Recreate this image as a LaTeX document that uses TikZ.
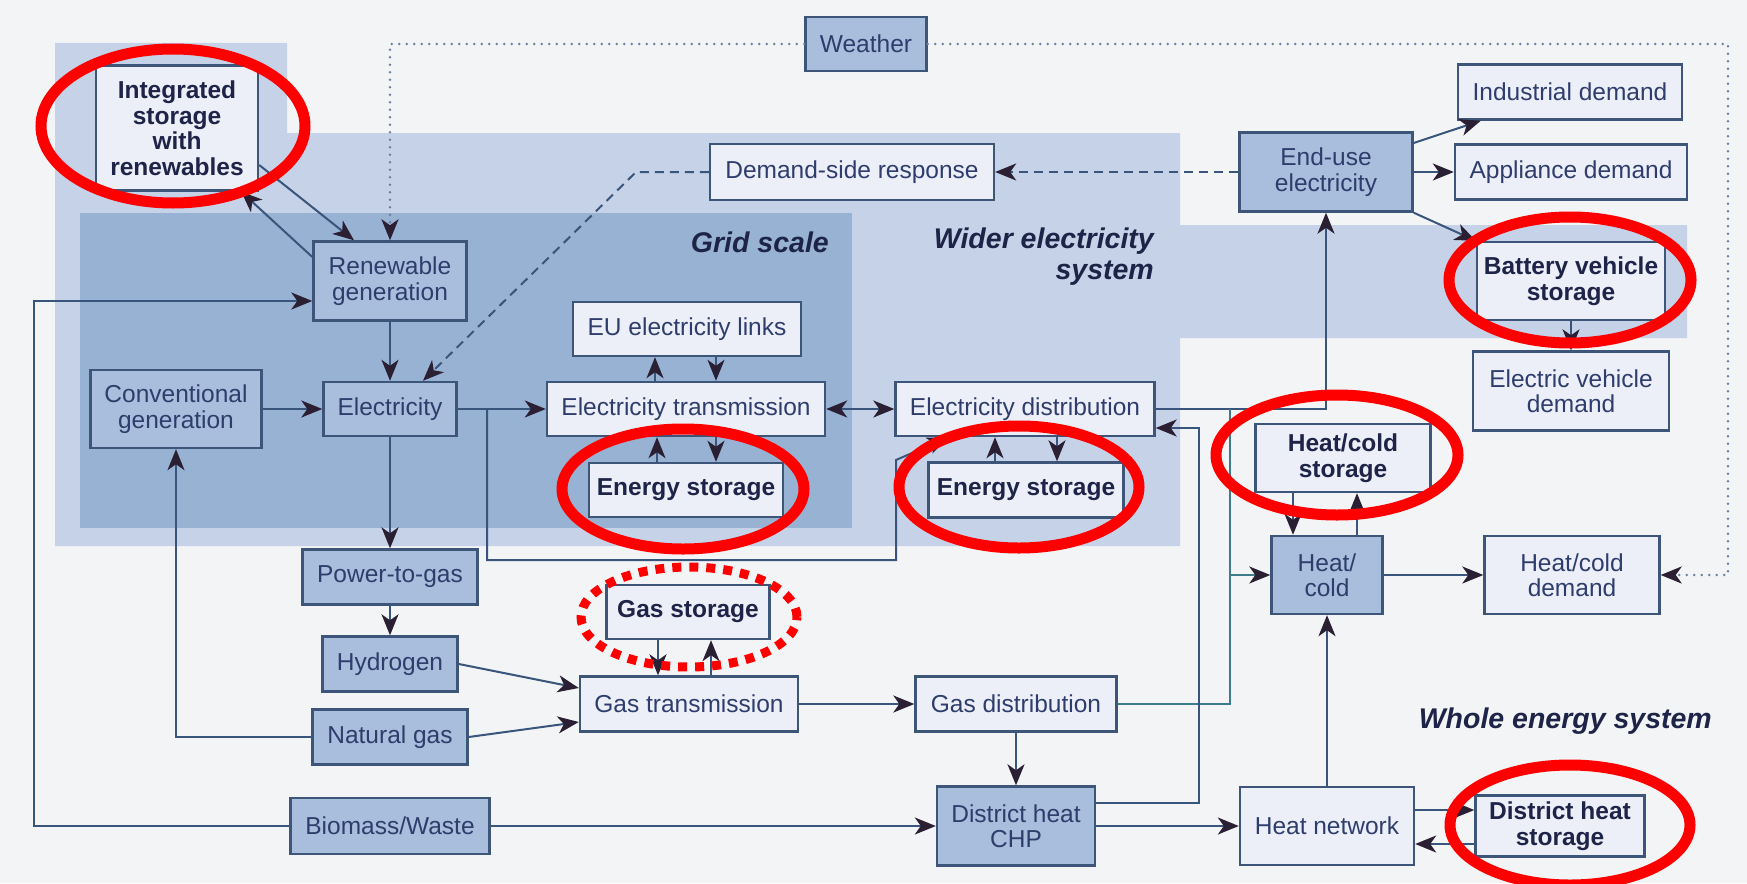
\documentclass[tikz,border=0pt]{standalone}
\usepackage{fontspec}
\setmainfont{Liberation Sans}
\usetikzlibrary{arrows.meta,calc}
\definecolor{bgcol}{HTML}{F3F4F6}
\definecolor{widercol}{HTML}{C5D2E8}
\definecolor{gridcol}{HTML}{98B2D4}
\definecolor{darkcol}{HTML}{A8BEDC}
\definecolor{lightcol}{HTML}{ECEEF8}
\definecolor{edgecol}{HTML}{3D5579}
\definecolor{linecol}{HTML}{3A557C}
\definecolor{tealcol}{HTML}{3E7C8C}
\definecolor{tipcol}{HTML}{2A1F33}
\definecolor{txtcol}{HTML}{2E3D6C}
\definecolor{boldcol}{HTML}{1E2447}
\definecolor{ringcol}{HTML}{FF0000}
\newcommand\boxfont{\fontsize{24.5}{25.5}\selectfont}
\newcommand\areafont{\fontsize{28.5}{31}\selectfont\bfseries\itshape}

\begin{document}
\begin{tikzpicture}[x=1pt,y=-1pt,>={Stealth[length=21pt,width=17pt,inset=6pt,color=tipcol]}]
  \tikzstyle{every node}=[font=\boxfont,text=txtcol,align=center,inner sep=1pt]
  \tikzstyle{dbox}=[draw=edgecol,line width=2.4pt,fill=darkcol]
  \tikzstyle{lbox}=[draw=edgecol,line width=2.4pt,fill=lightcol]
  \tikzstyle{sbox}=[lbox,font=\boxfont\bfseries,text=boldcol]
  \tikzstyle{link}=[draw=linecol,line width=2pt]
  \tikzstyle{dashlink}=[link,dash pattern=on 9pt off 6pt]
  \tikzstyle{dotlink}=[draw=linecol!75,line width=2.8pt,line cap=round,dash pattern=on 0pt off 7.5pt]
  \tikzstyle{ring}=[draw=ringcol,line width=11pt]
  \tikzstyle{area}=[font=\areafont,text=boldcol,align=right]

  \useasboundingbox (0,0) rectangle (1747,883);
  \fill[bgcol] (0,0) rectangle (1747,883);
  \fill[widercol] (55,43) -- (287,43) -- (287,133) -- (1180,133) -- (1180,225) -- (1687,225)
    -- (1687,338) -- (1180,338) -- (1180,546) -- (55,546) -- cycle;
  \fill[gridcol] (80,213) rectangle (852,528);

  \node[area,anchor=east] (gridlbl) at (830,242) {Grid scale};
  \node[area,anchor=east] (widerlbl) at (1155,257) {Wider electricity\\system};
  \node[area,anchor=east] (wholelbl) at (1713,721) {Whole energy system};

  \node[dbox,minimum width=121pt,minimum height=54pt] (weather) at (866,44) {Weather};
  \node[sbox,minimum width=162pt,minimum height=125pt] (intstore) at (177,128) {Integrated\\storage\\with\\renewables};
  \node[dbox,minimum width=153pt,minimum height=79pt] (renew) at (390,281) {Renewable\\generation};
  \node[dbox,minimum width=133pt,minimum height=54pt] (elec) at (390,409) {Electricity};
  \node[dbox,minimum width=171pt,minimum height=78pt] (conv) at (176,409) {Conventional\\generation};
  \node[lbox,minimum width=284pt,minimum height=56pt] (dsr) at (852,172) {Demand-side response};
  \node[lbox,minimum width=228pt,minimum height=54pt] (eulinks) at (687,329) {EU electricity links};
  \node[lbox,minimum width=278pt,minimum height=54pt] (etrans) at (686,409) {Electricity transmission};
  \node[sbox,minimum width=194pt,minimum height=54pt] (gridstore) at (686,490) {Energy storage};
  \node[lbox,minimum width=259pt,minimum height=54pt] (edist) at (1025,409) {Electricity distribution};
  \node[sbox,minimum width=195pt,minimum height=55pt] (diststore) at (1026,490) {Energy storage};
  \node[dbox,minimum width=173pt,minimum height=79pt] (enduse) at (1326,172) {End-use\\electricity};
  \node[lbox,minimum width=224pt,minimum height=55pt] (industrial) at (1570,92) {Industrial demand};
  \node[lbox,minimum width=232pt,minimum height=55pt] (appliance) at (1571,172) {Appliance demand};
  \node[sbox,minimum width=188pt,minimum height=78pt] (battery) at (1571,281) {Battery vehicle\\storage};
  \node[lbox,minimum width=196pt,minimum height=79pt] (evdemand) at (1571,391) {Electric vehicle\\demand};
  \node[sbox,minimum width=175pt,minimum height=68pt] (hcstore) at (1343,458) {Heat/cold\\storage};
  \node[dbox,minimum width=111pt,minimum height=78pt] (heatcold) at (1327,575) {Heat/\\cold};
  \node[lbox,minimum width=175pt,minimum height=78pt] (hcdemand) at (1572,575) {Heat/cold\\demand};
  \node[dbox,minimum width=175pt,minimum height=55pt] (p2g) at (390,577) {Power-to-gas};
  \node[dbox,minimum width=135pt,minimum height=55pt] (hydrogen) at (390,664) {Hydrogen};
  \node[dbox,minimum width=155pt,minimum height=55pt] (natgas) at (390,737) {Natural gas};
  \node[dbox,minimum width=199pt,minimum height=56pt] (biomass) at (390,826) {Biomass/Waste};
  \node[sbox,minimum width=163pt,minimum height=54pt] (gasstore) at (688,612) {Gas storage};
  \node[lbox,minimum width=218pt,minimum height=55pt] (gastrans) at (689,704) {Gas transmission};
  \node[lbox,minimum width=201pt,minimum height=55pt] (gasdist) at (1016,704) {Gas distribution};
  \node[dbox,minimum width=158pt,minimum height=79pt] (chp) at (1016,826) {District heat\\CHP};
  \node[lbox,minimum width=174pt,minimum height=78pt] (heatnet) at (1327,826) {Heat network};
  \node[sbox,minimum width=169pt,minimum height=61pt] (dhstore) at (1560,826) {District heat\\storage};

  \coordinate (wcorner) at (1728,44);
  \coordinate (lft) at (34,301);
  \coordinate (dsrbend) at (636,172);
  \coordinate (ebr1) at (487,560);
  \coordinate (ebr2) at (896,460);
  \coordinate (hcj) at (1230,409);
  \coordinate (chpup) at (1199,803);
  \path ($(heatcold.north)+(-34,0)$) coordinate (hc1) ($(heatcold.north)+(30,0)$) coordinate (hc2);

  \draw[dotlink,->] (weather.west) -| (renew.north);
  \draw[dotlink,->] (weather.east) -- (wcorner) |- (hcdemand.east);
  \draw[link,->] ($(intstore.east)+(0,37)$) -- ($(renew.north)+(-36,0)$);
  \draw[link,->] ($(renew.west)+(0,-24)$) -- ($(intstore.south east)+(-18,0)$);
  \draw[link,->] (biomass.west) -| (lft) -- ($(renew.west)+(0,20)$);
  \draw[link,->] (renew.south) -- (elec.north);
  \draw[link,->] (conv.east) -- (elec.west);
  \draw[dashlink,->] (dsr.west) -- (dsrbend) -- ($(elec.north)+(33,0)$);
  \draw[dashlink,->] (enduse.west) -- (dsr.east);
  \draw[link,->] (elec.east) -- (etrans.west);
  \draw[link,->] (elec.east -| ebr1) -- (ebr1) -| (ebr2) -- ($(edist.south west)+(54,0)$);
  \draw[link,->] (elec.south) -- (p2g.north);
  \draw[link,->] ($(etrans.north)+(-31,0)$) -- ($(eulinks.south)+(-32,0)$);
  \draw[link,->] ($(eulinks.south)+(29,0)$) -- ($(etrans.north)+(30,0)$);
  \draw[link,->] ($(gridstore.north)+(-29,0)$) -- ($(etrans.south)+(-29,0)$);
  \draw[link,->] ($(etrans.south)+(30,0)$) -- ($(gridstore.north)+(30,0)$);
  \draw[link,<->] (etrans.east) -- (edist.west);
  \draw[link,->] ($(diststore.north)+(-31,0)$) -- ($(edist.south)+(-30,0)$);
  \draw[link,->] ($(edist.south)+(32,0)$) -- ($(diststore.north)+(31,0)$);
  \draw[link,->] (edist.east) -| (enduse.south);
  \draw[link,draw=tealcol] (gasdist.east) -| (hcj);
  \draw[link,draw=tealcol,->] (hcj |- heatcold.west) -- (heatcold.west);
  \draw[link,->] ($(chp.east)+(0,-23)$) -- (chpup) |- ($(edist.east)+(0,19)$);
  \draw[link,->] ($(enduse.east)+(0,-29)$) -- ($(industrial.south west)+(24,0)$);
  \draw[link,->] (enduse.east) -- (appliance.west);
  \draw[link,->] (enduse.south east) -- (battery.north west);
  \draw[link,->] (battery.south) -- (evdemand.north);
  \draw[link,->] (hc1 |- hcstore.south) -- (hc1);
  \draw[link,->] (hc2) -- (hc2 |- hcstore.south);
  \draw[link,->] (heatcold.east) -- (hcdemand.west);
  \draw[link,->] (heatnet.north) -- (heatcold.south);
  \draw[link,->] ($(heatnet.east)+(0,-16)$) -- ($(dhstore.west)+(0,-16)$);
  \draw[link,->] ($(dhstore.west)+(0,18)$) -- ($(heatnet.east)+(0,18)$);
  \draw[link,->] (natgas.west) -| (conv.south);
  \draw[link,->] (p2g.south) -- (hydrogen.north);
  \draw[link,->] (hydrogen.east) -- ($(gastrans.west)+(0,-16)$);
  \draw[link,->] (natgas.east) -- ($(gastrans.west)+(0,18)$);
  \draw[link,->] ($(gasstore.south)+(-30,0)$) -- ($(gastrans.north)+(-31,0)$);
  \draw[link,->] ($(gastrans.north)+(22,0)$) -- ($(gasstore.south)+(23,0)$);
  \draw[link,->] (gastrans.east) -- (gasdist.west);
  \draw[link,->] (gasdist.south) -- (chp.north);
  \draw[link,->] (biomass.east) -- (chp.west);
  \draw[link,->] (chp.east) -- (heatnet.west);

  \draw[ring] (173,126) ellipse [x radius=132pt,y radius=77pt];
  \draw[ring] (683,489) ellipse [x radius=121pt,y radius=60pt];
  \draw[ring] (1019,487) ellipse [x radius=120pt,y radius=61pt];
  \draw[ring] (1337,455) ellipse [x radius=121pt,y radius=60pt];
  \draw[ring] (1570,280) ellipse [x radius=121pt,y radius=63pt];
  \draw[ring] (1570,825) ellipse [x radius=120pt,y radius=60pt];
  \draw[ring,line width=9pt,dash pattern=on 9pt off 8pt] (689,617) ellipse [x radius=108pt,y radius=50pt];
\end{tikzpicture}
\end{document}
